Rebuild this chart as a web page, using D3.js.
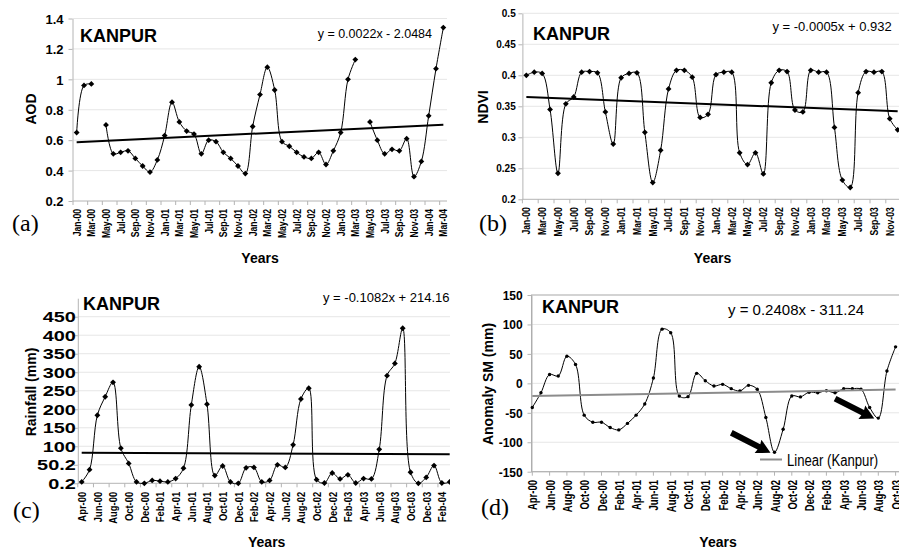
<!DOCTYPE html>
<html>
<head>
<meta charset="utf-8">
<script src="https://cdnjs.cloudflare.com/ajax/libs/d3/7.8.5/d3.min.js"></script>
<style>
body{margin:0;background:#fff}
svg{display:block;background:#fff}
text{font-family:"Liberation Sans",Arial,sans-serif}
text.tag{font-family:"Liberation Serif","Times New Roman",serif}
</style>
</head>
<body>
<svg id="fig" width="899" height="551"></svg>
<script>
// month categories Jan-00 .. Mar-04
var months = ["Jan-00","Feb-00","Mar-00","Apr-00","May-00","Jun-00","Jul-00","Aug-00","Sep-00","Oct-00","Nov-00","Dec-00",
              "Jan-01","Feb-01","Mar-01","Apr-01","May-01","Jun-01","Jul-01","Aug-01","Sep-01","Oct-01","Nov-01","Dec-01",
              "Jan-02","Feb-02","Mar-02","Apr-02","May-02","Jun-02","Jul-02","Aug-02","Sep-02","Oct-02","Nov-02","Dec-02",
              "Jan-03","Feb-03","Mar-03","Apr-03","May-03","Jun-03","Jul-03","Aug-03","Sep-03","Oct-03","Nov-03","Dec-03",
              "Jan-04","Feb-04","Mar-04"];

var aodMonths  = months.slice(0,51);
var ndviMonths = months.slice(0,48);
var rainMonths = months.slice(3,51);
var smMonths   = months.slice(3,46);

var aodValues = [0.65,0.96,0.97,null,0.70,0.51,0.52,0.53,0.48,0.43,0.39,0.47,
                 0.63,0.85,0.72,0.66,0.64,0.51,0.60,0.59,0.52,0.48,0.43,0.38,
                 0.69,0.90,1.08,0.93,0.59,0.56,0.52,0.49,0.48,0.52,0.44,0.53,
                 0.65,1.00,1.13,null,0.72,0.60,0.51,0.54,0.53,0.61,0.36,0.46,
                 0.76,1.07,1.34];
var aodTrend = [0.587,0.702];

var ndviValues = [0.400,0.405,0.403,0.345,0.242,0.354,0.365,0.405,0.406,0.404,0.341,0.289,
                  0.396,0.403,0.404,0.308,0.227,0.279,0.378,0.408,0.408,0.397,0.332,0.337,
                  0.401,0.405,0.405,0.275,0.256,0.275,0.241,0.388,0.408,0.406,0.344,0.341,
                  0.408,0.405,0.405,0.316,0.231,0.219,0.372,0.406,0.405,0.406,0.330,0.312];
var ndviTrend = [0.365,0.342];

var rainValues = [4,37,184,234,273,95,54,4,0.2,8,6,4,
                  13,41,212,315,214,21,47,4,0.2,42,43,4,
                  8,50,43,104,228,257,10,1,28,12,23,1,
                  13,12,92,291,324,419,30,0.2,16,48,1,4];
var rainTrend = [83,78.5];

var smValues = [-41,-16,15,12.5,46,32,-54,-66,-66,-75,-79,-68,
                -54,-35,9,92,86,-21.5,-22.6,17,4.5,-4.5,-1.7,-9,
                -13,-3.4,-10,-58,-117,-78,-21.5,-23,-15,-16,-12.5,-16,
                -9,-9,-10,-41,-59,21,62];
var smTrend = [-21.5,-10.5];
var smArrowMonths = ["Aug-02","Aug-03"];

var aodTicks  = [0.2,0.4,0.6,0.8,1.0,1.2,1.4];
var aodLabels = ["0.2","0.4","0.6","0.8","1","1.2","1.4"];
var ndviTicks  = [0.2,0.25,0.3,0.35,0.4,0.45,0.5];
var ndviLabels = ["0.2","0.25","0.3","0.35","0.4","0.45","0.5"];
var rainTicks  = [0.2,50.2,100.2,150.2,200.2,250.2,300.2,350.2,400.2,450.2];
var rainLabels = ["0.2","50.2","100","150","200","250","300","350","400","450"];
var smTicks  = [-150,-100,-50,0,50,100,150];
var smLabels = ["-150","-100","-50","0","50","100","150"];

var svg = d3.select("#fig");

var addText = function(g, str, x, y, size, opts)
{
    opts = opts || {};
    var t = g.append("text")
        .text(str)
        .attr("font-size", size)
        .attr("font-weight", opts.bold ? "bold" : "normal")
        .attr("text-anchor", opts.anchor || "start")
        .attr("fill", "#000");
    var tr = "translate(" + x + "," + y + ")";
    if (opts.rot) tr += " rotate(" + opts.rot + ")";
    if (opts.sx) tr += " scale(" + opts.sx + ",1)";
    t.attr("transform", tr);
    if (opts.cls) t.attr("class", opts.cls);
    return t;
}

var drawPanel = function(p)
{
    var g = svg.append("g");
    if (p.clipW)
    {
        svg.append("clipPath").attr("id", p.id + "-clip")
            .append("rect")
            .attr("x", 0).attr("y", p.clipY)
            .attr("width", p.clipW).attr("height", p.clipH);
        g.attr("clip-path", "url(#" + p.id + "-clip)");
    }

    var x = p.onTicks ? d3.scalePoint() : d3.scaleBand();
    x.domain(p.cats).range(p.xRange);
    var half = p.onTicks ? 0 : x.bandwidth() / 2;
    var xc = function(c) { return x(c) + half; };

    var y = d3.scaleLinear().domain(p.yDomain).range(p.yRange);
    var left = p.axisX;
    var bottom = p.yRange[0];

    // gridlines
    g.append("g").selectAll("line")
        .data(p.grid)
        .enter()
        .append("line")
        .attr("x1", left).attr("x2", p.plotRight)
        .attr("y1", function(d) { return y(d); })
        .attr("y2", function(d) { return y(d); })
        .attr("stroke", "#e6e6e6");

    if (p.frame)
    {
        g.append("rect")
            .attr("x", left).attr("y", y(p.yDomain[1]))
            .attr("width", p.plotRight - left)
            .attr("height", bottom - y(p.yDomain[1]))
            .attr("fill", "none")
            .attr("stroke", "#a8a8a8");
    }

    // y axis
    var yAxis = d3.axisLeft(y)
        .tickValues(p.yTicks)
        .tickFormat(function(d, i) { return p.yLabels[i]; })
        .tickSize(4)
        .tickSizeOuter(0);
    var ya = g.append("g")
        .attr("transform", "translate(" + left + ",0)")
        .call(yAxis);
    ya.select(".domain").attr("stroke", "#b4b4b4");
    ya.selectAll(".tick line").attr("stroke", "#b4b4b4");
    ya.selectAll(".tick text")
        .attr("x", 0)
        .attr("dy", "0.36em")
        .attr("font-size", p.yFont)
        .attr("font-weight", "bold")
        .attr("fill", "#000")
        .attr("transform", "translate(" + (-p.yPad) + ",0) scale(" + (p.ySx || 1) + ",1)");

    // x axis line + tick marks
    g.append("line")
        .attr("x1", left).attr("x2", p.plotRight)
        .attr("y1", bottom).attr("y2", bottom)
        .attr("stroke", "#b4b4b4");
    var markCats = p.cats.filter(function(c, i) { return i % 2 == 0; });
    g.append("g").selectAll("line")
        .data(markCats)
        .enter()
        .append("line")
        .attr("x1", function(c) { return x(c); })
        .attr("x2", function(c) { return x(c); })
        .attr("y1", bottom).attr("y2", bottom + 4)
        .attr("stroke", "#b4b4b4");

    var xAxis = d3.axisBottom(x)
        .tickValues(markCats)
        .tickSize(0)
        .tickSizeOuter(0);
    var xa = g.append("g")
        .attr("transform", "translate(0," + bottom + ")")
        .call(xAxis);
    xa.select(".domain").remove();
    xa.selectAll(".tick text")
        .attr("y", 0)
        .attr("dy", null)
        .attr("text-anchor", "end")
        .attr("dominant-baseline", "central")
        .attr("font-size", p.xFont)
        .attr("font-weight", "bold")
        .attr("fill", "#000")
        .attr("transform", "translate(0," + p.xPad + ") rotate(-90) scale(" + p.xSx + ",1)");

    // series
    var lineGenerator = d3.line()
        .defined(function(d) { return d != null; })
        .x(function(d, i) { return xc(p.cats[i]); })
        .y(function(d) { return y(d); })
        .curve(d3.curveCatmullRom);
    g.append("path")
        .datum(p.values)
        .attr("d", lineGenerator)
        .attr("fill", "none")
        .attr("stroke", "#000")
        .attr("stroke-width", 1);

    var pts = p.values
        .map(function(v, i) { return {v: v, c: p.cats[i]}; })
        .filter(function(d) { return d.v != null; });
    if (p.dots)
    {
        g.append("g").selectAll("circle")
            .data(pts)
            .enter()
            .append("circle")
            .attr("cx", function(d) { return xc(d.c); })
            .attr("cy", function(d) { return y(d.v); })
            .attr("r", 1.7)
            .attr("fill", "#000");
    }
    else
    {
        g.append("g").selectAll("path")
            .data(pts)
            .enter()
            .append("path")
            .attr("d", d3.symbol(d3.symbolSquare, 17))
            .attr("transform", function(d) { return "translate(" + xc(d.c) + "," + y(d.v) + ") rotate(45)"; })
            .attr("fill", "#000");
    }

    // linear trend
    var last = p.cats.length - 1;
    g.append("path")
        .datum(p.trend)
        .attr("d", d3.line()
            .x(function(d, i) { return xc(p.cats[i == 0 ? 0 : last]); })
            .y(function(d) { return y(d); }))
        .attr("stroke", p.trendColor)
        .attr("stroke-width", 2)
        .attr("fill", "none");

    // arrows pointing at minima
    if (p.arrows)
    {
        g.append("g").selectAll("path")
            .data(p.arrows)
            .enter()
            .append("path")
            .attr("d", "M0,0L-14,-7.5L-13,-3L-44,-3L-44,3L-13,3L-14,7.5Z")
            .attr("transform", function(c) {
                var v = p.values[p.cats.indexOf(c)];
                return "translate(" + (xc(c) - 4) + "," + (y(v) + 0.5) + ") rotate(27)";
            })
            .attr("fill", "#000");
    }

    // texts
    addText(g, "KANPUR", p.kanpur[0], p.kanpur[1], 18, {bold: true});
    addText(g, p.eq, p.eqPos[0], p.eqPos[1], p.eqFont, {anchor: p.eqAnchor});
    addText(svg, p.yTitle, p.yTitlePos[0], p.yTitlePos[1], 14, {bold: true, anchor: "middle", rot: -90});
    addText(svg, "Years", p.yearsPos[0], p.yearsPos[1], 14, {bold: true, anchor: "middle"});
    addText(svg, p.tag, p.tagPos[0], p.tagPos[1], 24, {cls: "tag"});

    if (p.legend)
    {
        g.append("line")
            .attr("x1", p.legend[0]).attr("x2", p.legend[0] + 22)
            .attr("y1", p.legend[1]).attr("y2", p.legend[1])
            .attr("stroke", p.trendColor).attr("stroke-width", 2);
        addText(g, "Linear (Kanpur)", p.legend[0] + 27, p.legend[1] + 6, 16, {sx: 0.82});
    }
}

drawPanel({
    id: "a", cats: aodMonths, values: aodValues, trend: aodTrend, trendColor: "#000",
    xRange: [73, 447], axisX: 72.5, plotRight: 447,
    yDomain: [0.2, 1.4], yRange: [201, 18.5],
    grid: aodTicks.slice(1), yTicks: aodTicks, yLabels: aodLabels,
    yFont: 13, yPad: 9, xFont: 11, xSx: 0.78, xPad: 8,
    kanpur: [80, 42], eq: "y = 0.0022x - 2.0484", eqPos: [432, 38], eqFont: 12.5, eqAnchor: "end",
    yTitle: "AOD", yTitlePos: [36, 109], yearsPos: [260, 263], tag: "(a)", tagPos: [12, 231]
});

drawPanel({
    id: "b", cats: ndviMonths, values: ndviValues, trend: ndviTrend, trendColor: "#000",
    xRange: [522.4, 901.6], axisX: 522.4, plotRight: 905,
    yDomain: [0.2, 0.5], yRange: [199.3, 13.3],
    grid: ndviTicks.slice(1), yTicks: ndviTicks, yLabels: ndviLabels,
    yFont: 10, yPad: 6.7, xFont: 11, xSx: 0.78, xPad: 8,
    kanpur: [533, 40], eq: "y = -0.0005x + 0.932", eqPos: [891.7, 30.5], eqFont: 13, eqAnchor: "end",
    yTitle: "NDVI", yTitlePos: [488, 107], yearsPos: [712.5, 263], tag: "(b)", tagPos: [479, 231]
});

drawPanel({
    id: "c", cats: rainMonths, values: rainValues, trend: rainTrend, trendColor: "#000",
    clipW: 450, clipY: 270, clipH: 281,
    xRange: [77.8, 453.6], axisX: 77.8, plotRight: 454,
    yDomain: [0.2, 500.2], yRange: [483.3, 298.2],
    grid: rainTicks.slice(1), yTicks: rainTicks, yLabels: rainLabels,
    yFont: 14, yPad: 2, ySx: 1.42, xFont: 11.5, xSx: 0.82, xPad: 8.5,
    kanpur: [83, 310], eq: "y = -0.1082x + 214.16", eqPos: [323, 302], eqFont: 13, eqAnchor: "start",
    yTitle: "Rainfall (mm)", yTitlePos: [36, 392], yearsPos: [266.7, 546.7], tag: "(c)", tagPos: [13, 518]
});

drawPanel({
    id: "d", cats: smMonths, values: smValues, trend: smTrend, trendColor: "#8c8c8c",
    onTicks: true, dots: true, frame: true, arrows: smArrowMonths, legend: [760, 459.5],
    xRange: [532.3, 895.6], axisX: 531.5, plotRight: 905,
    yDomain: [-150, 150], yRange: [471.7, 295],
    grid: [-100, -50, 0, 50, 100], yTicks: smTicks, yLabels: smLabels,
    yFont: 12, yPad: 8.8, xFont: 12.5, xSx: 0.76, xPad: 8.3,
    kanpur: [542, 312.7], eq: "y = 0.2408x - 311.24", eqPos: [728, 315], eqFont: 15, eqAnchor: "start",
    yTitle: "Anomaly SM (mm)", yTitlePos: [493, 384], yearsPos: [718, 546.7], tag: "(d)", tagPos: [481, 515]
});
</script>
</body>
</html>
